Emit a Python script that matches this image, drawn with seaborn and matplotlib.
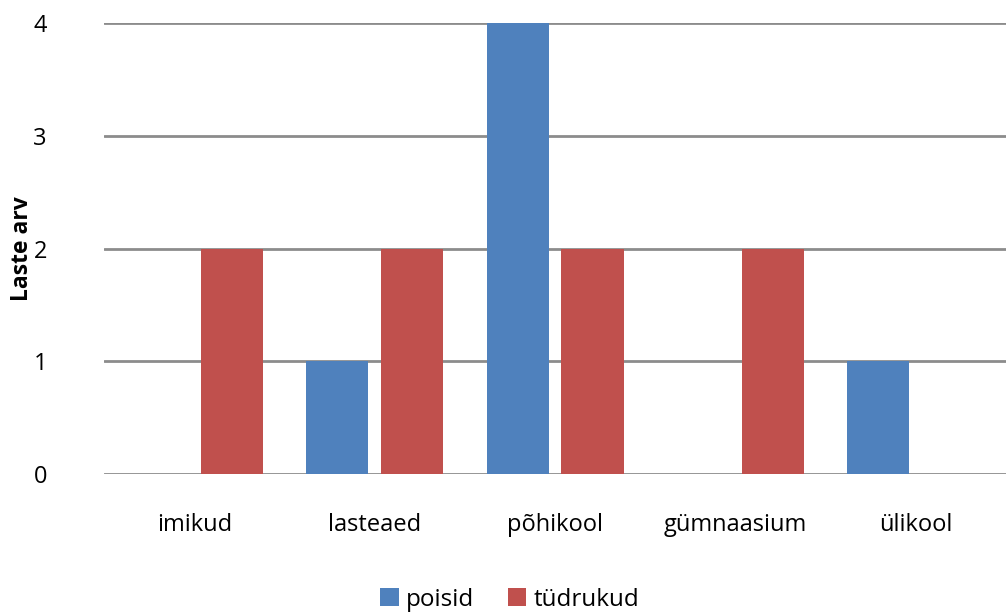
import pandas as pd
import matplotlib.pyplot as plt
import seaborn as sns

# data
categories = ['imikud', 'lasteaed', 'põhikool', 'gümnaasium', 'ülikool']
poisid = [0, 1, 4, 0, 1]
tudrukud = [2, 2, 2, 2, 0]

df = pd.DataFrame({
    'kategooria': categories * 2,
    'sugu': ['poisid'] * 5 + ['tüdrukud'] * 5,
    'arv': poisid + tudrukud,
})

sns.set_style('white')
plt.rcParams['font.family'] = ['Open Sans', 'DejaVu Sans']
plt.rcParams['text.color'] = 'black'
plt.rcParams['axes.labelcolor'] = 'black'
plt.rcParams['xtick.color'] = 'black'
plt.rcParams['ytick.color'] = 'black'

fig = plt.figure(figsize=(10.06, 6.14), dpi=100)
ax = fig.add_axes([0.1034, 0.228, 0.8966, 0.7345])

palette = {'poisid': '#4F81BD', 'tüdrukud': '#C0504D'}
sns.barplot(data=df, x='kategooria', y='arv', hue='sugu', palette=palette,
            width=0.83, gap=0.17, saturation=1, linewidth=0, ax=ax, zorder=3)

ax.set_ylim(0, 4)
ax.set_yticks([0, 1, 2, 3, 4])
ax.yaxis.grid(True, color='#8c8c8c', linewidth=2)
for s in ax.spines.values():
    s.set_visible(False)
ax.tick_params(axis='y', length=0, pad=46, labelsize=17)
ax.tick_params(axis='x', length=0, pad=28, labelsize=17)
for t in ax.get_yticklabels():
    t.set_horizontalalignment('center')
ax.set_xlabel('')
ax.set_ylabel('Laste arv', fontsize=16.5, fontweight='bold')
ax.yaxis.set_label_coords(-0.078, 0.5)

leg = ax.legend(loc='center', bbox_to_anchor=(0.45, -0.279), ncol=2,
                frameon=False, fontsize=17.5, handlelength=0.75, handleheight=0.75,
                handletextpad=0.3, columnspacing=1.4)

fig.savefig('out.png', dpi=100)
